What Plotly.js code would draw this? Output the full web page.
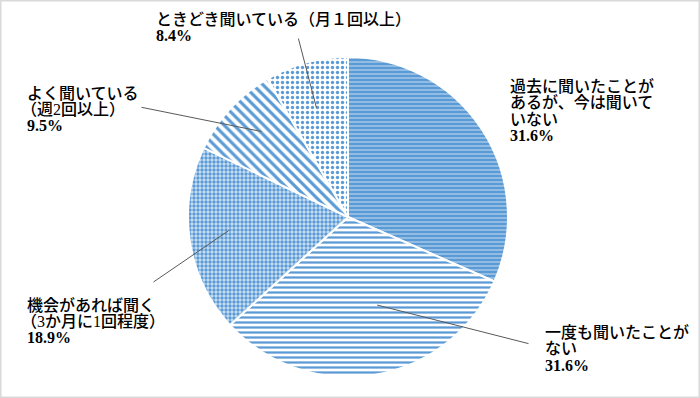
<!DOCTYPE html>
<html>
<head>
<meta charset="utf-8">
<script src="https://cdn.plot.ly/plotly-3.0.1.min.js"></script>
<style>
html,body{margin:0;padding:0;background:#fff;}
#chart{width:700px;height:398px;}
</style>
</head>
<body>
<div id="chart"></div>
<script>
// ---- data ----
const labels = [
  '過去に聞いたことがあるが、今は聞いていない',
  '一度も聞いたことがない',
  '機会があれば聞く（3か月に1回程度）',
  'よく聞いている（週2回以上）',
  'ときどき聞いている（月１回以上）'
];
const values = [31.6, 31.6, 18.9, 9.5, 8.4];
const labelLines = [
  ['過去に聞いたことが', 'あるが、今は聞いて', 'いない'],
  ['一度も聞いたことが', 'ない'],
  ['機会があれば聞く', '（3か月に1回程度）'],
  ['よく聞いている', '（週2回以上）'],
  ['ときどき聞いている（月１回以上）']
];

// ---- styling / layout ----
const W = 700, H = 398;
const cx = 348, cy = 217, R = 160;
const blue = '#5b9bd5';
const patterns = [
  {shape: '-', fgcolor: '#b9d3ee', bgcolor: blue, size: 4, solidity: 0.3},
  {shape: '-', fgcolor: blue, bgcolor: '#ffffff', size: 5, solidity: 0.45},
  {shape: '.', fgcolor: blue, bgcolor: '#cfe1f3', size: 4, solidity: 0.55},
  {shape: '\\', fgcolor: blue, bgcolor: '#ffffff', size: 7, solidity: 0.45},
  {shape: '.', fgcolor: blue, bgcolor: '#ffffff', size: 5, solidity: 0.35}
];
const labelPos = [[508, 86], [543, 332], [25, 304.5], [25, 93], [154, 19]];
const lineGap = 16.5;
const leaderStart = [null, [530, 344], [152, 283], [140, 107], [298, 37]];
const tipFrac = [0, 0.58, 0.75, 0.76, 0.71];
const tipOffset = [0, -9, 2, 2, -1];
const fontFam = '"Liberation Serif", "Noto Sans CJK JP", serif';

const total = values.reduce((a, b) => a + b, 0);
let cum = 0;
const mids = values.map(v => { const m = (cum + v / 2) / total * 360; cum += v; return m; });

const annotations = [];
labelLines.forEach((lines, i) => {
  const all = lines.concat([values[i].toFixed(1) + '%']);
  all.forEach((t, k) => {
    const isPct = k === all.length - 1;
    const px = labelPos[i][0] - (t.startsWith('（') ? 6 : 0);
    const py = labelPos[i][1] + k * lineGap;
    annotations.push({
      xref: 'paper', yref: 'paper', x: px / W, y: 1 - py / H,
      xanchor: 'left', yanchor: 'middle', showarrow: false, text: t,
      font: {family: fontFam, size: 16, color: '#000', weight: isPct ? 'bold' : 500}
    });
  });
  if (leaderStart[i]) {
    const a = (mids[i] + tipOffset[i]) * Math.PI / 180;
    const tx = cx + tipFrac[i] * R * Math.sin(a);
    const ty = cy - tipFrac[i] * R * Math.cos(a);
    annotations.push({
      xref: 'paper', yref: 'paper', x: tx / W, y: 1 - ty / H,
      ax: leaderStart[i][0] - tx, ay: leaderStart[i][1] - ty,
      axref: 'pixel', ayref: 'pixel',
      showarrow: true, arrowhead: 0, arrowwidth: 1, arrowcolor: '#595959',
      text: '', standoff: 0, startstandoff: 0
    });
  }
});

const trace = {
  type: 'pie',
  labels: labels,
  values: values,
  sort: false,
  direction: 'clockwise',
  rotation: 0,
  textinfo: 'none',
  hoverinfo: 'label+percent',
  domain: {x: [(cx - R) / W, (cx + R) / W], y: [(H - cy - R) / H, (H - cy + R) / H]},
  marker: {
    colors: values.map(() => blue),
    pattern: {
      shape: patterns.map(p => p.shape),
      fgcolor: patterns.map(p => p.fgcolor),
      bgcolor: patterns.map(p => p.bgcolor),
      size: patterns.map(p => p.size),
      solidity: patterns.map(p => p.solidity),
      fillmode: 'replace'
    },
    line: {color: '#ffffff', width: 2}
  }
};

const layout = {
  width: W, height: H,
  margin: {l: 0, r: 0, t: 0, b: 0},
  paper_bgcolor: '#ffffff',
  showlegend: false,
  annotations: annotations,
  shapes: [{type: 'rect', xref: 'paper', yref: 'paper', x0: 0, x1: 1, y0: 0, y1: 1,
            line: {color: '#d9d9d9', width: 3}}]
};

Plotly.newPlot('chart', [trace], layout, {displayModeBar: false, staticPlot: true});
</script>
</body>
</html>
